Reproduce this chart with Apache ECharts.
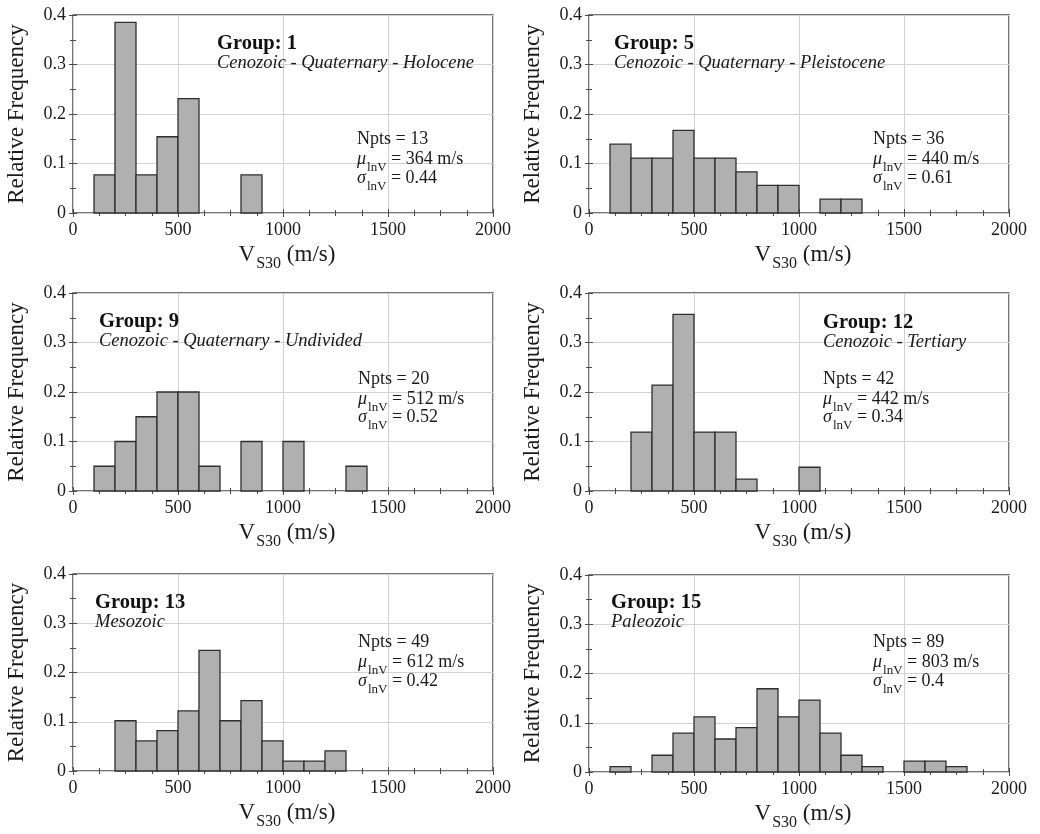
<!DOCTYPE html>
<html>
<head>
<meta charset="utf-8">
<script src="https://cdn.jsdelivr.net/npm/echarts@6/dist/echarts.min.js"></script>
<style>
html,body{margin:0;padding:0;background:#fff;}
#c{width:1040px;height:834px;}
</style>
</head>
<body>
<div id="c"></div>
<script>
// Bin edges (m/s)
const binEdges = [0,100,200,300,400,500,600,700,800,900,1000,1100,1200,1300,1400,1500,1600,1700,1800,1900,2000];

// Relative frequency per bin for each group
const freqG1  = [0,0.077,0.385,0.077,0.154,0.231,0,0,0.077,0,0,0,0,0,0,0,0,0,0,0];
const freqG5  = [0,0.139,0.111,0.111,0.167,0.111,0.111,0.083,0.056,0.056,0,0.028,0.028,0,0,0,0,0,0,0];
const freqG9  = [0,0.05,0.1,0.15,0.2,0.2,0.05,0,0.1,0,0.1,0,0,0.05,0,0,0,0,0,0];
const freqG12 = [0,0,0.119,0.214,0.357,0.119,0.119,0.024,0,0,0.048,0,0,0,0,0,0,0,0,0];
const freqG13 = [0,0,0.102,0.061,0.082,0.122,0.245,0.102,0.143,0.061,0.020,0.020,0.041,0,0,0,0,0,0,0];
const freqG15 = [0,0.011,0,0.034,0.079,0.112,0.067,0.090,0.169,0.112,0.146,0.079,0.034,0.011,0,0.022,0.022,0.011,0,0];

const groupTitles = ['Group: 1','Group: 5','Group: 9','Group: 12','Group: 13','Group: 15'];
const groupSubtitles = ['Cenozoic - Quaternary - Holocene','Cenozoic - Quaternary - Pleistocene','Cenozoic - Quaternary - Undivided','Cenozoic - Tertiary','Mesozoic','Paleozoic'];
const nptsValues = [13,36,20,42,49,89];
const muValues = [364,440,512,442,612,803];
const sigmaValues = ['0.44','0.61','0.52','0.34','0.42','0.4'];
const xTickLabels = ['0','500','1000','1500','2000'];
const yTickLabels = ['0','0.1','0.2','0.3','0.4'];

const freqs = [freqG1,freqG5,freqG9,freqG12,freqG13,freqG15];

// layout (pixels)
const grids = [
  {left:73, top:15, width:420, height:198},
  {left:589, top:15, width:420, height:198},
  {left:73, top:293, width:420, height:198},
  {left:589, top:293, width:420, height:198},
  {left:73, top:574, width:420, height:197},
  {left:589, top:575, width:420, height:197}
];
// text positions: [groupX, groupY, subY, statsX, nptsY]
const textPos = [
  [217, 44, 63, 357, 139.5],
  [614, 44, 63, 873, 139.5],
  [99, 322, 341, 358, 379],
  [823, 323, 342, 823, 379],
  [95, 602.5, 622.5, 358, 642.5],
  [611, 602.5, 622.5, 873, 642.5]
];

const FONT = '"Liberation Serif","Times New Roman",serif';
const frameColor = '#4a4a4a';
const textColor = '#1a1a1a';

const option = {
  backgroundColor:'#fff',
  animation:false,
  grid:[], xAxis:[], yAxis:[], series:[], graphic:[]
};

grids.forEach((g,i)=>{
  option.grid.push(Object.assign({show:true, borderColor:frameColor, borderWidth:1.5, backgroundColor:'transparent'}, g));
  // bottom x
  option.xAxis.push({
    type:'value', gridIndex:i, min:0, max:2000, interval:500, position:'bottom',
    axisLine:{show:false},
    axisTick:{show:true, inside:true, length:4, lineStyle:{color:frameColor}},
    minorTick:{show:true, splitNumber:4, length:3, lineStyle:{color:frameColor}},
    splitLine:{show:true, lineStyle:{color:'#d2d2d2', width:1}},
    axisLabel:{margin:8, color:textColor, fontFamily:FONT, fontSize:18,
      formatter:(v)=>xTickLabels[Math.round(v/500)]},
    name:'{v|V}{s|S30}{p| (m/s)}', nameLocation:'middle', nameGap:30,
    nameTextStyle:{color:textColor, fontFamily:FONT,
      rich:{
        v:{fontSize:23, fontFamily:FONT, color:textColor, lineHeight:23, verticalAlign:'top', padding:[0,0,0,8]},
        s:{fontSize:16, fontFamily:FONT, color:textColor, lineHeight:16, verticalAlign:'top', padding:[13,0,0,1]},
        p:{fontSize:23, fontFamily:FONT, color:textColor, lineHeight:23, verticalAlign:'top'}
      }}
  });
  // top x (ticks only)
  option.xAxis.push({
    type:'value', gridIndex:i, min:0, max:2000, interval:500, position:'top',
    axisLine:{show:false},
    axisTick:{show:true, inside:true, length:4, lineStyle:{color:frameColor}},
    minorTick:{show:true, splitNumber:4, length:3, lineStyle:{color:frameColor}},
    splitLine:{show:false}, axisLabel:{show:false}
  });
  option.yAxis.push({
    type:'value', gridIndex:i, min:0, max:0.4, interval:0.1, position:'left',
    axisLine:{show:false},
    axisTick:{show:true, inside:true, length:4, lineStyle:{color:frameColor}},
    minorTick:{show:true, splitNumber:2, length:3, lineStyle:{color:frameColor}},
    splitLine:{show:true, lineStyle:{color:'#d2d2d2', width:1}},
    axisLabel:{margin:7, color:textColor, fontFamily:FONT, fontSize:18,
      formatter:(v)=>yTickLabels[Math.round(v*10)]},
    name:'Relative Frequency', nameLocation:'middle', nameGap:45,
    nameTextStyle:{color:textColor, fontFamily:FONT, fontSize:23}
  });
  option.yAxis.push({
    type:'value', gridIndex:i, min:0, max:0.4, interval:0.1, position:'right',
    axisLine:{show:false},
    axisTick:{show:true, inside:true, length:4, lineStyle:{color:frameColor}},
    minorTick:{show:true, splitNumber:2, length:3, lineStyle:{color:frameColor}},
    splitLine:{show:false}, axisLabel:{show:false}
  });

  const data = [];
  freqs[i].forEach((f,k)=>{ if (f>0) data.push([binEdges[k], binEdges[k+1], f]); });
  option.series.push({
    type:'custom', xAxisIndex:2*i, yAxisIndex:2*i, data:data,
    encode:{x:[0,1], y:2},
    renderItem:(params, api)=>{
      const p0 = api.coord([api.value(0), 0]);
      const p1 = api.coord([api.value(1), api.value(2)]);
      return {type:'rect', shape:{x:p0[0], y:p1[1], width:p1[0]-p0[0], height:p0[1]-p1[1]},
        style:{fill:'#b0b0b0', stroke:'#2e2e2e', lineWidth:1.3}};
    }
  });

  const tp = textPos[i];
  option.graphic.push({type:'text', x:tp[0], y:tp[1], z:10,
    style:{text:groupTitles[i], fontFamily:FONT, fontSize:20.5, fontWeight:'bold', fill:'#111', align:'left', verticalAlign:'middle'}});
  option.graphic.push({type:'text', x:tp[0], y:tp[2], z:10,
    style:{text:groupSubtitles[i], fontFamily:FONT, fontSize:18.5, fontStyle:'italic', fill:textColor, align:'left', verticalAlign:'middle'}});
  option.graphic.push({type:'text', x:tp[3], y:tp[4], z:10,
    style:{text:'Npts = ' + nptsValues[i], fontFamily:FONT, fontSize:18, fill:textColor, align:'left', verticalAlign:'middle'}});
  const richStats = {
    g:{fontFamily:FONT, fontSize:18, fontStyle:'italic', fill:textColor, lineHeight:18, verticalAlign:'top'},
    m:{fontFamily:FONT, fontSize:18, fill:textColor, lineHeight:18, verticalAlign:'top'},
    s:{fontFamily:FONT, fontSize:13, fill:textColor, lineHeight:13, verticalAlign:'top', padding:[11,0,0,1]}
  };
  option.graphic.push({type:'text', x:tp[3], y:tp[4]+20-9, z:10,
    style:{text:'{g|\u03bc}{s|lnV}{m| = ' + muValues[i] + ' m/s}', rich:richStats, align:'left', verticalAlign:'top'}});
  option.graphic.push({type:'text', x:tp[3], y:tp[4]+38.5-9, z:10,
    style:{text:'{g|\u03c3}{s|lnV}{m| = ' + sigmaValues[i] + '}', rich:richStats, align:'left', verticalAlign:'top'}});
});

const chart = echarts.init(document.getElementById('c'), null, {renderer:'canvas'});
chart.setOption(option);
</script>
</body>
</html>
